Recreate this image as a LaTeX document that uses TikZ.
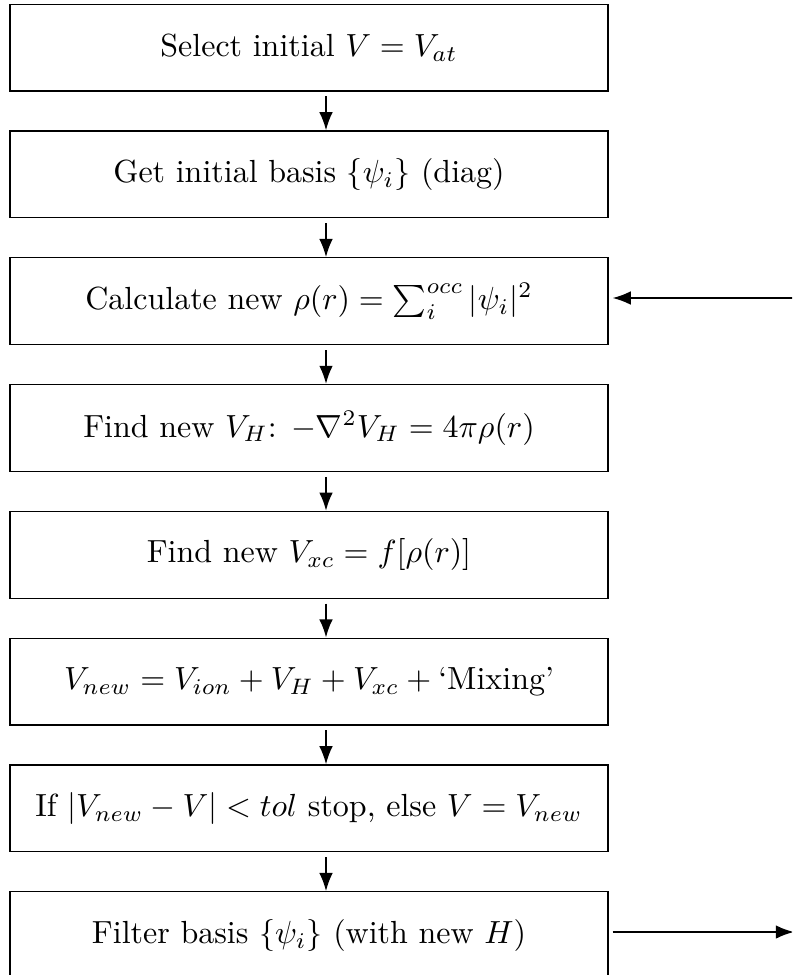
\documentclass[tikz,border=0pt]{standalone}
\usetikzlibrary{arrows.meta}
\begin{document}
\begin{tikzpicture}[x=0.3125pt,y=-0.3125pt,
  box/.style={draw,line width=0.4pt,minimum width=186.9pt,minimum height=27.1pt,inner sep=0pt,align=center},
  flow/.style={line width=0.6pt,-{Latex}}]
\clip (0,0) rectangle (792,975);
\useasboundingbox (0,0) rectangle (792,975);
\coordinate (ax) at (326,0);
\node[box] (b1) at (309,47.6) {Select initial $V = V_{at}$};
\node[box] (b2) at (309,174.4) {Get initial basis $\{\psi_i\}$ (diag)};
\node[box] (b3) at (309,301.2) {Calculate new $\rho(r) = \sum_i^{occ} |\psi_i|^2$};
\node[box] (b4) at (309,428.0) {Find new $V_H$: $-\nabla^2 V_H = 4\pi\rho(r)$};
\node[box] (b5) at (309,554.8) {Find new $V_{xc} = f[\rho(r)]$};
\node[box] (b6) at (309,681.6) {$V_{new} = V_{ion} + V_H + V_{xc} + \mbox{`Mixing'}$};
\node[box] (b7) at (309,808.4) {If $|V_{new} - V| < tol$ stop, else $V = V_{new}$};
\node[box] (b8) at (309,935.2) {Filter basis $\{\psi_i\}$ (with new $H$)};
\foreach \a/\b in {b1/b2,b2/b3,b3/b4,b4/b5,b5/b6,b6/b7,b7/b8}
  \draw[flow,shorten <=1.5pt] (\a.south -| ax) -- (\b.north -| ax);
\coordinate (fb) at (800,298);
\coordinate (out) at (794,932);
\draw[flow,shorten >=1.2pt] (fb) -- (fb -| b3.east);
\draw[flow,shorten <=1.2pt] (out -| b8.east) -- (out);
\end{tikzpicture}
\end{document}
